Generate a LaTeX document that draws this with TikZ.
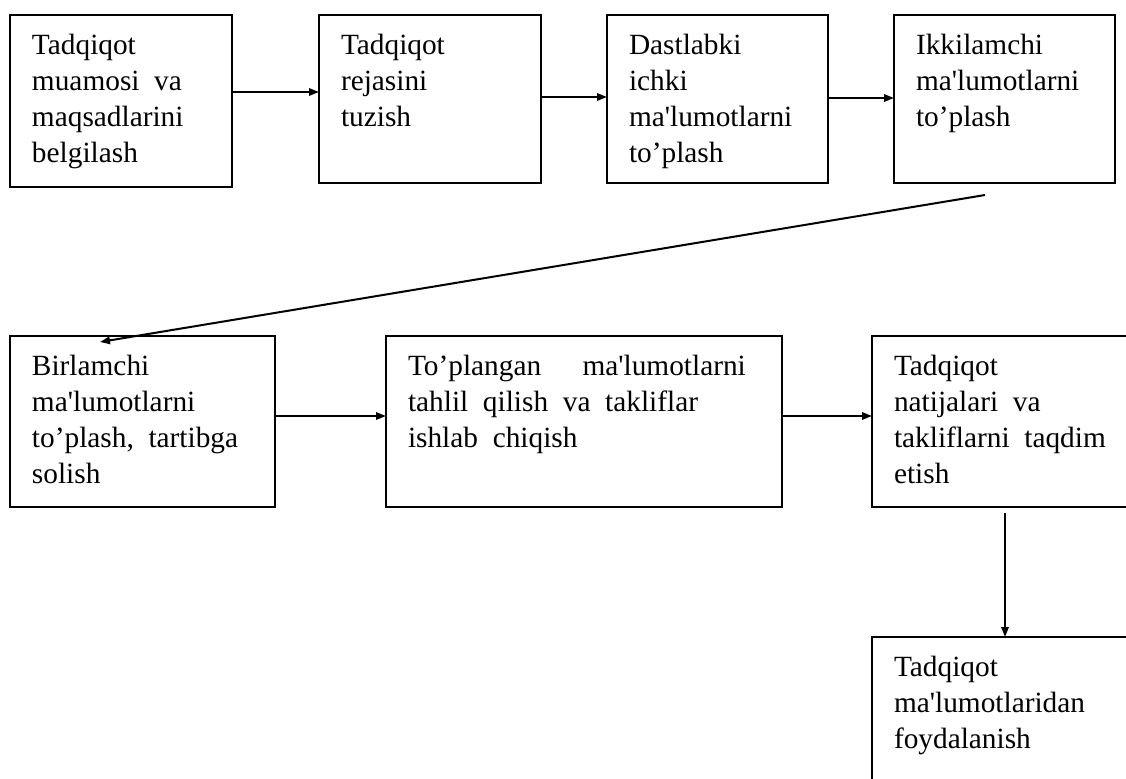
\documentclass[tikz,border=0pt]{standalone}
\usepackage{fontspec}
\setmainfont{Liberation Serif}[Ligatures=TeXOff]
\usetikzlibrary{arrows.meta}
\newcommand\bxt[3]{%
\begin{minipage}[t][#2][t]{#1}\raggedright\leftskip=16.5pt\fontsize{22pt}{27pt}\selectfont\spaceskip=0.5em\rule{0pt}{29.25pt}#3\end{minipage}}
\tikzset{
  box/.style={draw, line width=1pt, anchor=north west, inner sep=0pt, outer sep=0pt},
  arr/.style={line width=1.5pt, -{Triangle[length=7.5pt,width=5.5pt]}}
}
\begin{document}
\begin{tikzpicture}[x=0.75pt,y=-0.75pt]
\useasboundingbox (0,0) rectangle (1126,778);
% row 1
\node[box] (B1) at (10,15) {\bxt{166.5pt}{129pt}{Tadqiqot\\ muamosi va\\ maqsadlarini\\ belgilash}};
\node[box] (B2) at (319,15) {\bxt{166.5pt}{126pt}{Tadqiqot\\ rejasini\\ tuzish}};
\node[box] (B3) at (607,15) {\bxt{165.75pt}{126pt}{Dastlabki\\ ichki\\ ma'lumotlarni\\ to’plash}};
\node[box] (B4) at (894,15) {\bxt{165.75pt}{126pt}{Ikkilamchi\\ ma'lumotlarni\\ to’plash}};
% row 2
\node[box] (B5) at (10,336) {\bxt{198.75pt}{128.25pt}{Birlamchi\\ ma'lumotlarni\\ to’plash, tartibga\\ solish}};
\node[box] (B6) at (386,336) {\bxt{297pt}{128.25pt}{To’plangan\hskip 31pt ma'lumotlarni\\ tahlil qilish va takliflar\\ ishlab chiqish}};
\node[box] (B7) at (872,336) {\bxt{196.5pt}{128.25pt}{Tadqiqot\\ natijalari va\\ takliflarni taqdim\\ etish}};
% row 3
\node[box] (B8) at (872,637) {\bxt{196.5pt}{120pt}{Tadqiqot\\ ma'lumotlaridan\\ foydalanish}};
% arrow levels
\coordinate (r1) at (0,92);
\coordinate (r2) at (0,97);
\coordinate (r3) at (0,98);
\coordinate (r4) at (0,416);
\coordinate (d1) at (985,195);
\coordinate (d2) at (100,342);
\coordinate (v1) at (1005,513);
% connectors
\draw[arr] (B1.east |- r1) -- (B2.west |- r1);
\draw[arr] (B2.east |- r2) -- (B3.west |- r2);
\draw[arr] (B3.east |- r3) -- (B4.west |- r3);
\draw[arr] (d1) -- (d2);
\draw[arr] (B5.east |- r4) -- (B6.west |- r4);
\draw[arr] (B6.east |- r4) -- (B7.west |- r4);
\draw[arr] (v1) -- (v1 |- B8.north);
\end{tikzpicture}
\end{document}
